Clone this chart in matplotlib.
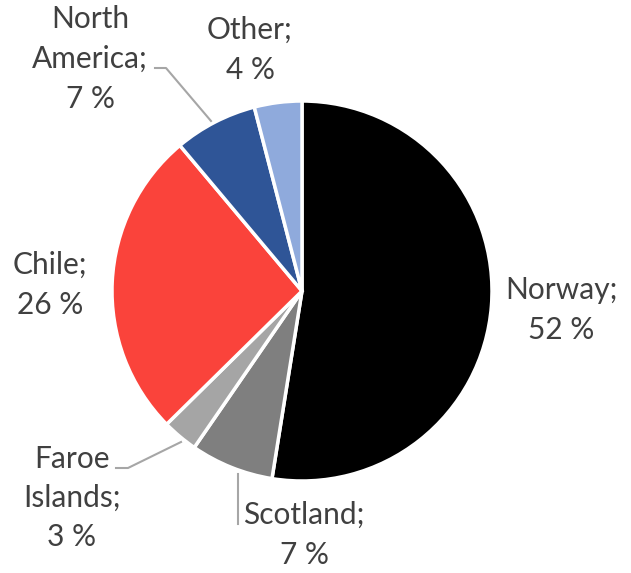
import matplotlib.pyplot as plt

plt.rcParams['font.family'] = ['Lato', 'DejaVu Sans']

regions = ["Norway", "Scotland", "Faroe\nIslands", "Chile", "North\nAmerica", "Other"]
shares = [52, 7, 3, 26, 7, 4]
colors = ["#000000", "#7f7f7f", "#a5a5a5", "#fa433b", "#2f5597", "#8faadc"]

# label anchor points in figure pixels (y measured from top)
label_pos = [(561, 310), (304, 535), (72, 498), (50, 285), (90, 59), (250, 50)]

W, H = 631, 573
fig = plt.figure(figsize=(W / 100, H / 100), dpi=100)
ax = fig.add_axes([0, 0, 1, 1])

ax.pie(shares, colors=colors, startangle=90, counterclock=False,
       center=(302, H - 291), radius=190, frame=True,
       wedgeprops=dict(edgecolor="white", linewidth=2.5))
ax.set_xlim(0, W)
ax.set_ylim(0, H)
ax.set_aspect("equal")
ax.axis("off")

for name, val, (x, y) in zip(regions, shares, label_pos):
    ax.text(x, H - y, f"{name};\n{val} %", ha="center", va="center",
            fontsize=21.5, color="#404040", linespacing=1.5)

# leader lines for the labels sitting outside their slices
lead = "#a6a6a6"
ax.plot([155, 166, 211], [H - 68, H - 68, H - 121], color=lead, lw=1.5)
ax.plot([116, 128, 181], [H - 468, H - 468, H - 442], color=lead, lw=1.5)
ax.plot([238, 238], [H - 474, H - 524], color=lead, lw=1.5)

fig.savefig("out.png", dpi=100)
